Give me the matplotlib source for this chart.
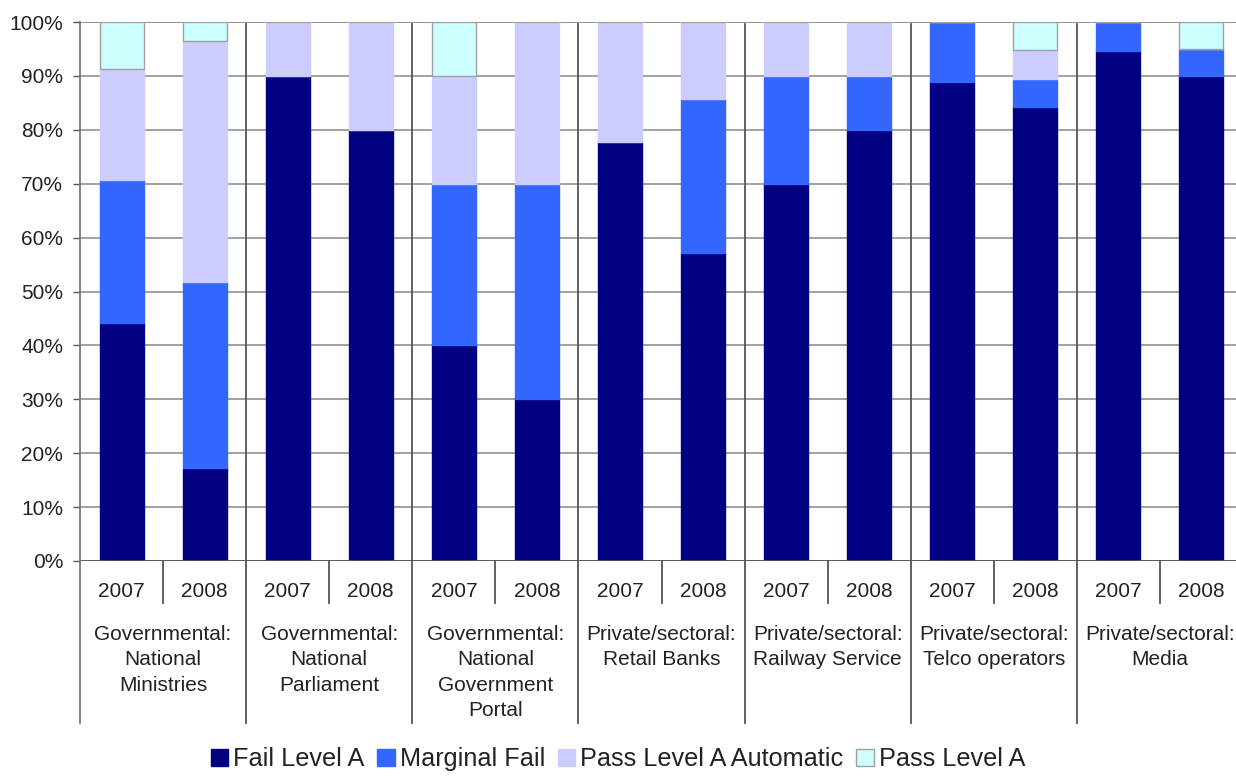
import matplotlib.pyplot as plt
import matplotlib.transforms as mtransforms
from matplotlib.patches import Patch
import numpy as np

plt.rcParams['font.family'] = ['Liberation Sans', 'DejaVu Sans']
plt.rcParams['text.color'] = '#222222'

# Share of sites per outcome (%), one entry per (group, year) bar
groups = ['Governmental:\nNational\nMinistries',
          'Governmental:\nNational\nParliament',
          'Governmental:\nNational\nGovernment\nPortal',
          'Private/sectoral:\nRetail Banks',
          'Private/sectoral:\nRailway Service',
          'Private/sectoral:\nTelco operators',
          'Private/sectoral:\nMedia']
years = ['2007', '2008']

fail_a = [44.1, 17.2, 90, 80, 40, 30, 77.8, 57.1, 70, 80, 88.9, 84.2, 94.7, 90]
marginal = [26.5, 34.5, 0, 0, 30, 40, 0, 28.6, 20, 10, 11.1, 5.3, 5.3, 5]
pass_auto = [20.6, 44.8, 10, 20, 20, 30, 22.2, 14.3, 10, 10, 0, 5.3, 0, 0]
pass_a = [8.8, 3.5, 0, 0, 10, 0, 0, 0, 0, 0, 0, 5.2, 0, 5]

series = ['Fail Level A', 'Marginal Fail', 'Pass Level A Automatic', 'Pass Level A']
colors = ['#000080', '#3366FF', '#CCCCFF', '#CCFFFF']
edges = ['#000080', '#3366FF', '#CCCCFF', '#A0A0A0']

fig = plt.figure(figsize=(12.36, 7.76), dpi=100)
ax = fig.add_axes([80 / 1236, 215 / 776, 1163 / 1236, 539 / 776])

x = np.arange(len(fail_a))
bottom = np.zeros(len(x))
for vals, c, ec in zip([fail_a, marginal, pass_auto, pass_a], colors, edges):
    vals = np.array(vals, dtype=float)
    ax.bar(x, vals, width=0.53, bottom=bottom, color=c, edgecolor=ec,
           linewidth=1.0, zorder=3)
    bottom += vals

ax.set_xlim(-0.5, len(x) - 0.5)
ax.set_ylim(0, 100)
ax.set_yticks(np.arange(0, 101, 10))
ax.set_yticklabels([f'{v}%' for v in range(0, 101, 10)], fontsize=15,
                   color='#222222')
ax.tick_params(axis='y', length=5, width=1, color='#555555', pad=7)
ax.set_xticks([])
ax.yaxis.grid(True, color='#9a9a9a', linewidth=1.3, zorder=0)
for s in ['top', 'right', 'bottom', 'left']:
    ax.spines[s].set_visible(False)
ax.axhline(100, color='#555555', linewidth=1.3, zorder=1)
ax.axhline(0, color='#555555', linewidth=1.3, zorder=4)

trans = mtransforms.blended_transform_factory(ax.transData, ax.transAxes)

# Left edge and group separators reaching into the category area
ax.plot([-0.5, -0.5], [1.0, -0.30], transform=trans, color='#777777',
        linewidth=1.3, clip_on=False, zorder=4)
for b in np.arange(1.5, len(x) - 1, 2):
    ax.plot([b, b], [0.996, -0.30], transform=trans, color='#555555',
            linewidth=1.3, clip_on=False, zorder=2)
# Year separators within each group
for b in np.arange(0.5, len(x), 2):
    ax.plot([b, b], [0, -0.078], transform=trans, color='#555555',
            linewidth=1.3, clip_on=False)

for i in x:
    ax.text(i, -0.056, years[i % 2], transform=trans, ha='center',
            va='center', fontsize=15)
for g, name in enumerate(groups):
    ax.text(2 * g + 0.5, -0.119, name, transform=trans, ha='center',
            va='top', fontsize=15, linespacing=1.42)

handles = [Patch(facecolor=c, edgecolor=ec, linewidth=1.0)
           for c, ec in zip(colors, edges)]
fig.legend(handles, series, loc='lower center', bbox_to_anchor=(0.5, -0.02),
           ncol=4, frameon=False, fontsize=18.2, handlelength=0.69,
           handleheight=0.69, handletextpad=0.2, columnspacing=0.5,
           borderpad=0.3)

plt.savefig('out.png', dpi=100)
plt.close()
